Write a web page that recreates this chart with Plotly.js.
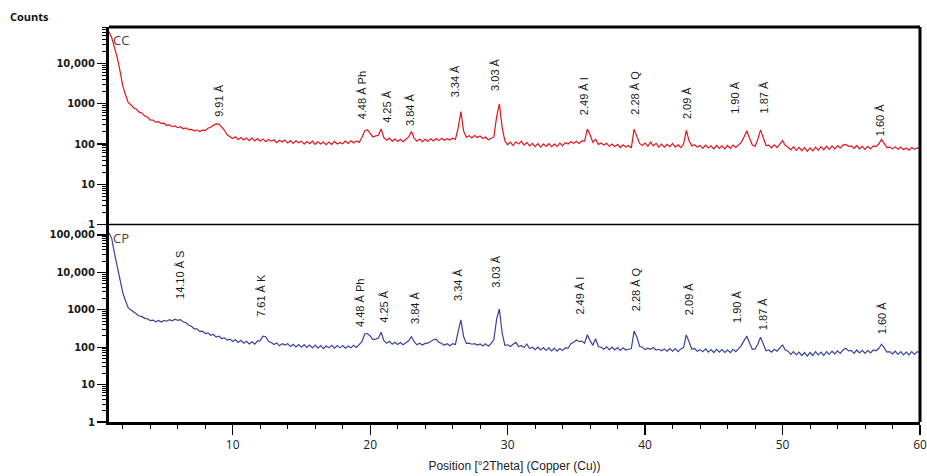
<!DOCTYPE html>
<html>
<head>
<meta charset="utf-8">
<script src="https://cdn.plot.ly/plotly-3.0.1.min.js"></script>
<style>html,body{margin:0;padding:0;background:#fff;}#chart{width:927px;height:476px;}</style>
</head>
<body>
<div id="chart"></div>
<script>
// 2Theta grid: first sample and sample spacing (degrees)
const twoThetaStart = 1.0;
const twoThetaStep = 0.2;

// CC pattern (counts), one value per 0.2 degree from 1.0 to 60.0
const ccCounts = [
  62000, 44000, 25000, 14000, 6600,
  2800, 1700, 1070, 950, 790,
  730, 620, 585, 500, 470,
  400, 395, 350, 360, 325,
  330, 292, 300, 270, 282,
  255, 270, 240, 252, 228,
  232, 210, 226, 204, 222,
  218, 248, 262, 296, 318,
  312, 258, 220, 170, 152,
  138, 152, 130, 146, 126,
  142, 122, 140, 120, 138,
  120, 134, 114, 130, 118,
  128, 108, 124, 112, 126,
  106, 122, 104, 120, 108,
  118, 100, 116, 102, 118,
  98, 114, 100, 112, 96,
  112, 98, 116, 100, 110,
  102, 118, 104, 120, 106,
  120, 110, 146, 212, 228,
  185, 150, 160, 165, 238,
  145, 124, 140, 118, 134,
  116, 132, 114, 128, 150,
  205, 140, 118, 134, 114,
  132, 116, 136, 120, 138,
  122, 140, 124, 136, 126,
  140, 130, 250, 640, 210,
  148, 162, 142, 164, 146,
  158, 138, 150, 128, 140,
  150, 480, 1000, 260, 120,
  96, 112, 92, 114, 100,
  118, 94, 110, 90, 104,
  86, 102, 84, 100, 88,
  102, 86, 100, 88, 106,
  90, 108, 100, 114, 104,
  118, 104, 120, 118, 235,
  170, 110, 132, 98, 106,
  94, 104, 88, 100, 86,
  98, 82, 96, 84, 92,
  80, 235, 150, 104, 92,
  106, 88, 112, 90, 104,
  84, 100, 84, 98, 86,
  104, 84, 96, 82, 100,
  220, 120, 90, 96, 84,
  92, 78, 94, 80, 90,
  76, 92, 78, 90, 76,
  92, 78, 94, 82, 98,
  110, 150, 215, 140, 96,
  88, 130, 225, 140, 92,
  94, 80, 96, 82, 100,
  122, 92, 84, 72, 86,
  70, 84, 68, 82, 66,
  80, 68, 84, 70, 86,
  72, 88, 74, 90, 76,
  92, 80, 94, 98, 88,
  90, 78, 92, 76, 88,
  74, 88, 76, 90, 86,
  100, 130, 104, 82, 84,
  76, 86, 74, 84, 72,
  80, 70, 82, 74, 80,
  76
];

// CP pattern (counts), same grid
const cpCounts = [
  115000, 80000, 32000, 13500, 6300,
  2900, 1750, 1120, 990, 860,
  780, 680, 655, 590, 575,
  515, 530, 480, 520, 470,
  520, 495, 545, 505, 560,
  520, 545, 480, 450, 385,
  362, 310, 308, 265, 270,
  232, 242, 208, 218, 186,
  196, 170, 178, 154, 164,
  142, 158, 134, 152, 128,
  144, 122, 140, 120, 146,
  150, 196, 190, 144, 134,
  118, 130, 110, 124, 114,
  124, 104, 120, 102, 118,
  100, 118, 98, 114, 96,
  114, 94, 110, 92, 108,
  96, 112, 94, 110, 96,
  110, 94, 108, 96, 112,
  98, 114, 140, 225, 232,
  200, 160, 165, 175, 250,
  150, 128, 144, 120, 136,
  118, 134, 116, 130, 148,
  192, 140, 116, 128, 114,
  126, 128, 146, 158, 164,
  136, 126, 112, 124, 110,
  124, 118, 260, 540, 190,
  126, 128, 120, 124, 114,
  122, 108, 124, 106, 126,
  160, 560, 1050, 240, 112,
  116, 104, 120, 134, 104,
  110, 98, 122, 92, 100,
  86, 100, 84, 98, 82,
  96, 80, 94, 78, 92,
  82, 96, 94, 124, 136,
  156, 142, 146, 128, 215,
  150, 112, 168, 104, 100,
  88, 102, 86, 100, 84,
  98, 82, 96, 84, 88,
  92, 270, 190, 106, 100,
  86, 94, 88, 98, 84,
  88, 80, 90, 78, 92,
  78, 92, 76, 90, 98,
  212, 140, 88, 92, 78,
  86, 76, 90, 74, 86,
  72, 88, 74, 86, 72,
  84, 72, 88, 76, 92,
  110, 150, 200, 130, 88,
  90, 120, 185, 120, 80,
  84, 74, 88, 78, 96,
  115, 84, 78, 64, 76,
  62, 74, 60, 72, 58,
  72, 60, 76, 62, 74,
  60, 76, 64, 78, 66,
  80, 68, 84, 94, 80,
  82, 68, 84, 70, 82,
  68, 82, 70, 84, 80,
  92, 120, 96, 74, 76,
  66, 78, 64, 76, 62,
  74, 62, 76, 64, 76,
  72
];

// Peak labels (d-spacings) : text, 2Theta, counts at label base
const ccLabels = ['9.91 Å', '4.48 Å Ph', '4.25 Å', '3.84 Å', '3.34 Å', '3.03 Å', '2.49 Å I', '2.28 Å Q', '2.09 Å', '1.90 Å', '1.87 Å', '1.60 Å'];
const ccLabelX = [8.98, 19.42, 21.2, 22.9, 26.17, 29.03, 35.56, 39.24, 43.05, 46.58, 48.68, 57.1];
const ccLabelY = [417, 372, 295, 251, 1290, 1900, 468, 468, 372, 490, 525, 141];

const cpLabels = ['14.10 Å S', '7.61 Å K', '4.48 Å Ph', '4.25 Å', '3.84 Å', '3.34 Å', '3.03 Å', '2.49 Å I', '2.28 Å Q', '2.09 Å', '1.90 Å', '1.87 Å', '1.60 Å'];
const cpLabelX = [6.15, 12.1, 19.27, 21.0, 23.27, 26.34, 29.1, 35.25, 39.3, 43.15, 46.7, 48.6, 57.2];
const cpLabelY = [1700, 575, 310, 398, 372, 1550, 3470, 650, 830, 650, 398, 257, 190];

// Axis ticks
const xTickVals = [10, 20, 30, 40, 50, 60];
const xTickText = ['10', '20', '30', '40', '50', '60'];
const ccTickVals = [1, 10, 100, 1000, 10000];
const ccTickText = ['1', '10', '100', '1000', '10,000'];
const cpTickVals = [1, 10, 100, 1000, 10000, 100000];
const cpTickText = ['1', '10', '100', '1000', '10,000', '100,000'];
const xTitle = 'Position [°2Theta] (Copper (Cu))';
const yTitle = 'Counts';
const sampleNames = ['CC', 'CP'];

// minor log ticks (2..9 per decade)
const minorLog = [];
for (let d = 1; d <= 100000; d *= 10) for (let k = 2; k <= 9; k++) minorLog.push(d * k);

const traces = [
  {x0: twoThetaStart, dx: twoThetaStep, y: ccCounts, xaxis: 'x', yaxis: 'y', type: 'scatter', mode: 'lines',
   line: {color: '#e3141c', width: 1.2}, name: sampleNames[0], hoverinfo: 'x+y'},
  {x0: twoThetaStart, dx: twoThetaStep, y: cpCounts, xaxis: 'x', yaxis: 'y2', type: 'scatter', mode: 'lines',
   line: {color: '#3b429c', width: 1.2}, name: sampleNames[1], hoverinfo: 'x+y'}
];

const labelFont = {family: 'Liberation Sans, Arial, sans-serif', size: 11, color: '#1a1a1a'};
const annotations = [];
ccLabels.forEach((t, i) => annotations.push({
  text: t, x: ccLabelX[i], y: Math.log10(ccLabelY[i]), xref: 'x', yref: 'y',
  textangle: -90, showarrow: false, xanchor: 'center', yanchor: 'bottom', font: labelFont
}));
cpLabels.forEach((t, i) => annotations.push({
  text: t, x: cpLabelX[i], y: Math.log10(cpLabelY[i]), xref: 'x', yref: 'y2',
  textangle: -90, showarrow: false, xanchor: 'center', yanchor: 'bottom', font: labelFont
}));
annotations.push({text: yTitle, xref: 'paper', yref: 'paper', x: -0.124, y: 1.0, xanchor: 'left', yanchor: 'bottom',
  yshift: 1, showarrow: false, font: {family: 'Open Sans, sans-serif', size: 11, color: '#111', weight: 700}});
annotations.push({text: sampleNames[0], xref: 'paper', yref: 'paper', x: 0, y: 1, xanchor: 'left', yanchor: 'top',
  xshift: 2, yshift: -2, showarrow: false, font: {family: 'Open Sans, sans-serif', size: 13, color: '#444'}});
annotations.push({text: sampleNames[1], xref: 'paper', yref: 'paper', x: 0, y: 0.5, xanchor: 'left', yanchor: 'top',
  xshift: 2, yshift: -2, showarrow: false, font: {family: 'Open Sans, sans-serif', size: 13, color: '#444'}});

const yTickFont = {family: 'DejaVu Sans, sans-serif', size: 10, color: '#1a1a1a', weight: 700};
const yCommon = {
  type: 'log', showgrid: false, zeroline: false, showline: true, linecolor: '#000', linewidth: 3,
  ticks: 'outside', ticklen: 9, tickwidth: 1.3, tickcolor: '#000', tickfont: yTickFont, tickmode: 'array',
  minor: {tickmode: 'array', tickvals: minorLog, ticks: 'outside', ticklen: 4, tickwidth: 1, tickcolor: '#000', showgrid: false}
};

const layout = {
  width: 927, height: 476,
  margin: {l: 109, r: 7, t: 27, b: 54},
  paper_bgcolor: '#fff', plot_bgcolor: '#fff',
  showlegend: false,
  xaxis: {
    anchor: 'y2', range: [1, 60], showgrid: false, zeroline: false, showline: true, linecolor: '#000', linewidth: 3,
    tickmode: 'array', tickvals: xTickVals, ticktext: xTickText,
    ticks: 'outside', ticklen: 10, tickwidth: 1.3, tickcolor: '#000',
    tickfont: {family: 'Open Sans, sans-serif', size: 12, color: '#222'},
    minor: {tickmode: 'linear', tick0: 0, dtick: 2, ticks: 'outside', ticklen: 4, tickwidth: 1, tickcolor: '#000', showgrid: false},
    title: {text: xTitle, standoff: 10, font: {family: 'Liberation Sans, Arial, sans-serif', size: 12, color: '#222'}}
  },
  yaxis: Object.assign({}, yCommon, {domain: [0.5, 1], range: [0, 4.91], tickvals: ccTickVals, ticktext: ccTickText}),
  yaxis2: Object.assign({}, yCommon, {domain: [0, 0.5], range: [0, 5.28], tickvals: cpTickVals, ticktext: cpTickText}),
  shapes: [
    {type: 'line', xref: 'paper', yref: 'paper', x0: 0, x1: 1, y0: 1, y1: 1, line: {color: '#000', width: 3}},
    {type: 'line', xref: 'paper', yref: 'paper', x0: 1, x1: 1, y0: 0, y1: 1, line: {color: '#000', width: 3}},
    {type: 'line', xref: 'paper', yref: 'paper', x0: 0, x1: 1, y0: 0.5, y1: 0.5, line: {color: '#000', width: 1.5}}
  ],
  annotations: annotations
};

Plotly.newPlot('chart', traces, layout, {displayModeBar: false, staticPlot: true});
</script>
</body>
</html>
